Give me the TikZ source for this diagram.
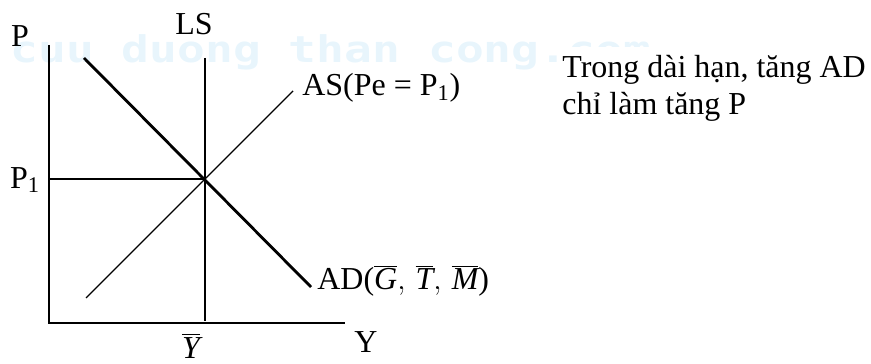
\documentclass[tikz,border=0pt]{standalone}
\usepackage{fontspec}
\setmainfont{Liberation Serif}
\newfontfamily\markfont{DejaVu Sans Mono}
\usetikzlibrary{positioning}
\definecolor{markblue}{RGB}{232,245,252}

\begin{document}
\begin{tikzpicture}[x=0.02cm,y=-0.02cm,
    font=\fontsize{18.2}{21}\selectfont,
    axis/.style={line width=1.6pt},
    bold curve/.style={line width=1.6pt},
    thin curve/.style={line width=0.8pt},
    lab/.style={inner sep=0pt}]
  \useasboundingbox (0,0) rectangle (871,364);
  % watermark
  \node[lab,anchor=base west,text=markblue,font=\markfont\bfseries\fontsize{20.9}{21}\selectfont]
    (mark) at (10,63) {\scalebox{1.26}[1]{cuu duong than cong.com}};
  \fill[white] (557,47) rectangle (871,130);
  % axes
  \coordinate (O) at (49,323);
  \coordinate (top) at (49,45);
  \coordinate (right) at (345,323);
  \draw[axis] (top) -- (O) -- (right);
  % long-run supply
  \coordinate (E) at (205,179);
  \coordinate (lstop) at (205,58);
  \coordinate (lsbot) at (205,321);
  \draw[bold curve] (lstop) -- (lsbot);
  % AD and AS
  \coordinate (adtop) at (84,58);
  \coordinate (adbot) at (311,287);
  \draw[bold curve] (adtop) -- (adbot);
  \coordinate (asbot) at (86,298);
  \coordinate (astop) at (293,91);
  \draw[thin curve] (asbot) -- (astop);
  \draw[thin curve] (O |- E) -- (E);
  % labels
  \node[lab] (plab) at (20,36) {P};
  \node[lab] (lslab) at (194,24) {LS};
  \node[lab] (p1lab) at (25,180) {P\textsubscript{1}};
  \node[lab,anchor=west] (aslab) at (302,88) {AS(Pe = P\textsubscript{1})};
  \node[lab,anchor=west] (adlab) at (317,281)
    {AD($\overline{\mbox{\itshape G}},\,\overline{\mbox{\itshape T}},\,\overline{\mbox{\itshape M}}$)};
  \node[lab] (ylab) at (366,342) {Y};
  \node[lab] (ybar) at (191,346) {$\overline{\mbox{\itshape Y}}$};
  \node[lab,anchor=base west,align=left,font=\fontsize{18.2}{21.6}\selectfont] (note) at (562,115)
    {Trong dài hạn, tăng AD\\chỉ làm tăng P};
\end{tikzpicture}
\end{document}
